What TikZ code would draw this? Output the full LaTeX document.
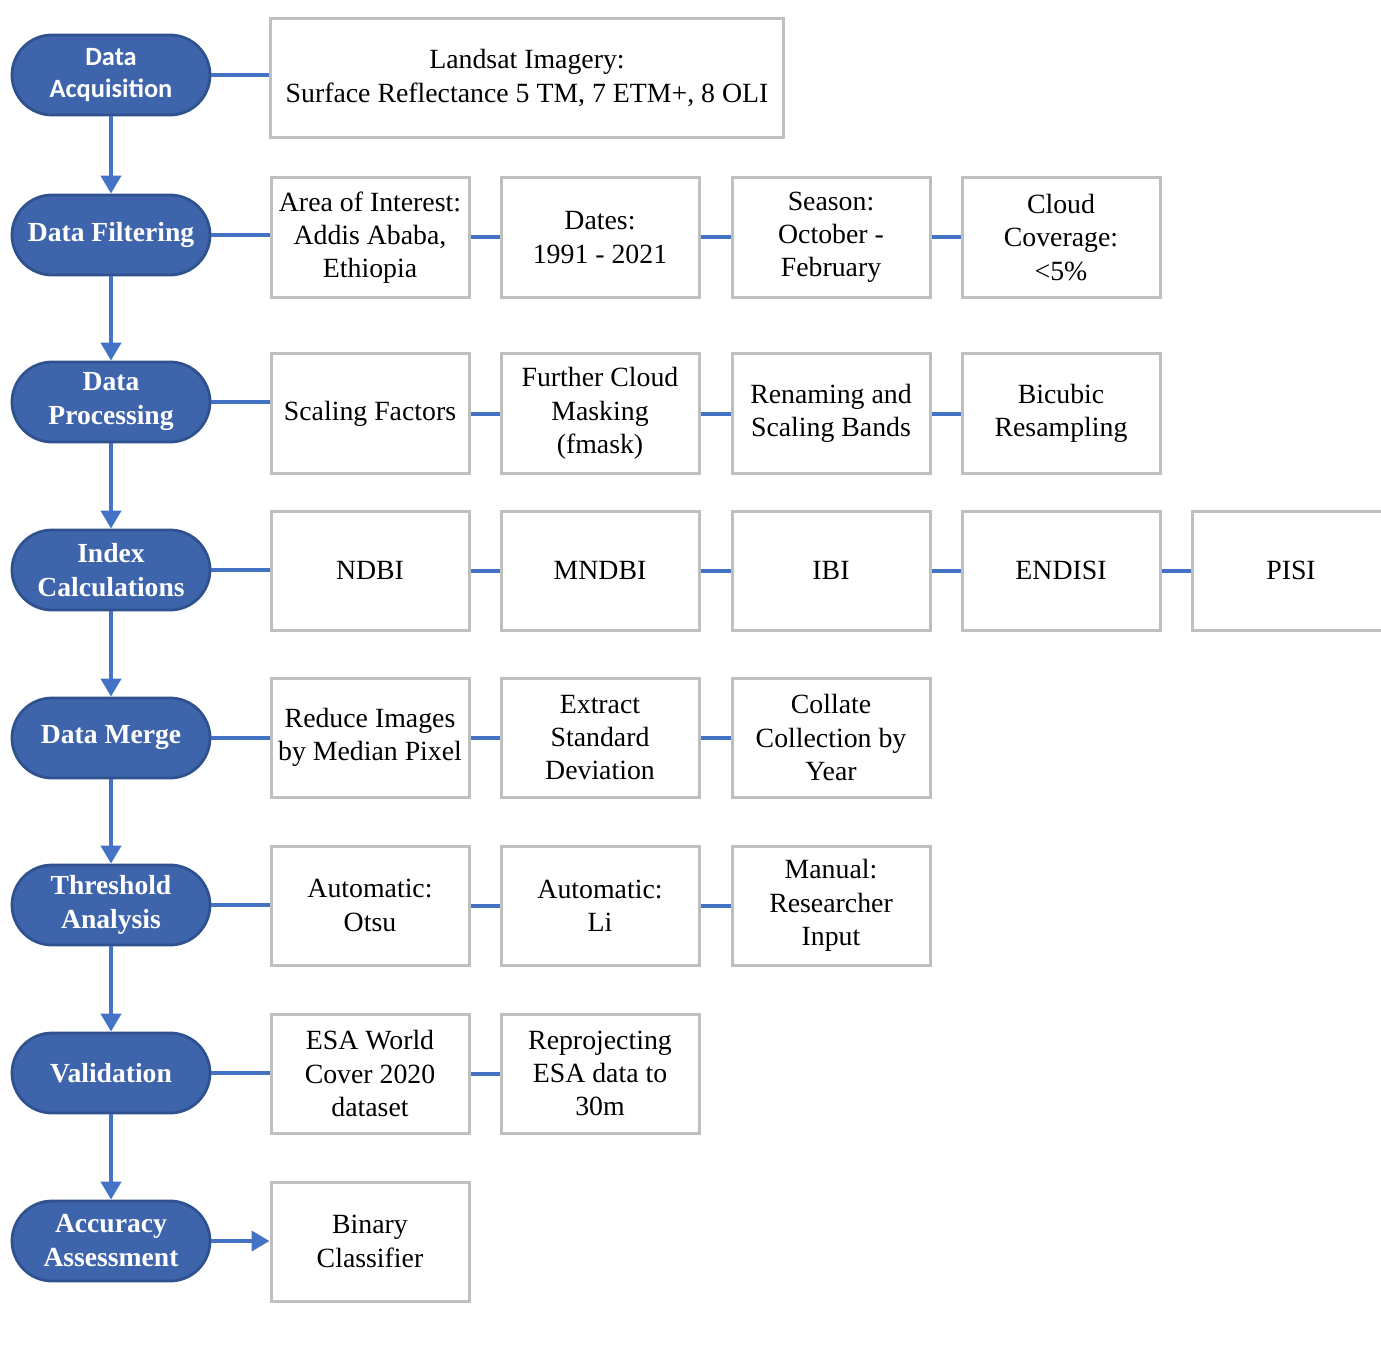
\documentclass[tikz,border=0pt]{standalone}
\usepackage{fontspec}
\setmainfont{Liberation Serif}
\newfontfamily\calibri{Carlito}
\usetikzlibrary{arrows.meta}
\definecolor{pillfill}{RGB}{62,100,172}
\definecolor{pillline}{RGB}{47,82,143}
\definecolor{linkblue}{RGB}{68,114,196}
\definecolor{boxgray}{RGB}{191,191,191}
\begin{document}
\begin{tikzpicture}[x=0.5bp,y=-0.5bp,
  stage/.style={draw=pillline,line width=1.4bp,fill=pillfill,rounded corners=20bp,
    minimum width=99bp,minimum height=40bp,inner sep=0pt,text=white,align=center,
    font=\fontsize{13.8bp}{17bp}\selectfont\bfseries},
  item/.style={draw=boxgray,line width=1.5bp,minimum width=99bp,minimum height=59.5bp,
    inner sep=0pt,align=center,font=\fontsize{13.9bp}{16.6bp}\selectfont},
  link/.style={draw=linkblue,line width=2bp},
  flow/.style={link,-{Triangle[width=10bp,length=9bp]}}]
\useasboundingbox (0,0) rectangle (1381,1351);
% stages down the left side
\node[stage,font=\fontsize{13.2bp}{16bp}\calibri\bfseries] (p1) at (111,75) {Data\\Acquisition};
\node[stage] (p2) at (111,235) {Data Filtering};
\node[stage] (p3) at (111,402) {Data\\Processing};
\node[stage] (p4) at (111,570) {Index\\Calculations};
\node[stage] (p5) at (111,738) {Data Merge};
\node[stage] (p6) at (111,905) {Threshold\\Analysis};
\node[stage] (p7) at (111,1073) {Validation};
\node[stage] (p8) at (111,1241) {Accuracy\\Assessment};
\foreach \a/\b in {p1/p2,p2/p3,p3/p4,p4/p5,p5/p6,p6/p7,p7/p8}
  \draw[flow] (\a.south) -- (\b.north);
% row 1
\node[item,minimum width=256bp] (b11) at (527,78) {Landsat Imagery:\\Surface Reflectance 5 TM, 7 ETM+, 8 OLI};
% row 2
\node[item] (b21) at (370,237.5) {Area of Interest:\\Addis Ababa,\\Ethiopia};
\node[item] (b22) at (600,237.5) {Dates:\\1991 - 2021};
\node[item] (b23) at (831,237.5) {Season:\\October -\\February};
\node[item] (b24) at (1061,237.5) {Cloud\\Coverage:\\<5\%};
% row 3
\node[item] (b31) at (370,413.5) {Scaling Factors};
\node[item] (b32) at (600,413.5) {Further Cloud\\Masking\\(fmask)};
\node[item] (b33) at (831,413.5) {Renaming and\\Scaling Bands};
\node[item] (b34) at (1061,413.5) {Bicubic\\Resampling};
% row 4
\node[item] (b41) at (370,570.5) {NDBI};
\node[item] (b42) at (600,570.5) {MNDBI};
\node[item] (b43) at (831,570.5) {IBI};
\node[item] (b44) at (1061,570.5) {ENDISI};
\node[item] (b45) at (1291,570.5) {PISI};
% row 5
\node[item] (b51) at (370,737.5) {Reduce Images\\by Median Pixel};
\node[item] (b52) at (600,737.5) {Extract\\Standard\\Deviation};
\node[item] (b53) at (831,737.5) {Collate\\Collection by\\Year};
% row 6
\node[item] (b61) at (370,905.5) {Automatic:\\Otsu};
\node[item] (b62) at (600,905.5) {Automatic:\\Li};
\node[item] (b63) at (831,905.5) {Manual:\\Researcher\\Input};
% row 7
\node[item] (b71) at (370,1073.5) {ESA World\\Cover 2020\\dataset};
\node[item] (b72) at (600,1073.5) {Reprojecting\\ESA data to\\30m};
% row 8
\node[item] (b81) at (370,1241.5) {Binary\\Classifier};
% stage-to-step links
\foreach \p/\b in {p1/b11,p2/b21,p3/b31,p4/b41,p5/b51,p6/b61,p7/b71}
  \draw[link] (\p.east) -- (\p.east -| \b.west);
\draw[flow] (p8.east) -- (p8.east -| b81.west);
% step-to-step links
\foreach \a/\b in {b21/b22,b22/b23,b23/b24,b31/b32,b32/b33,b33/b34,
  b41/b42,b42/b43,b43/b44,b44/b45,b51/b52,b52/b53,b61/b62,b62/b63,b71/b72}
  \draw[link] (\a.east) -- (\b.west);
\end{tikzpicture}
\end{document}
